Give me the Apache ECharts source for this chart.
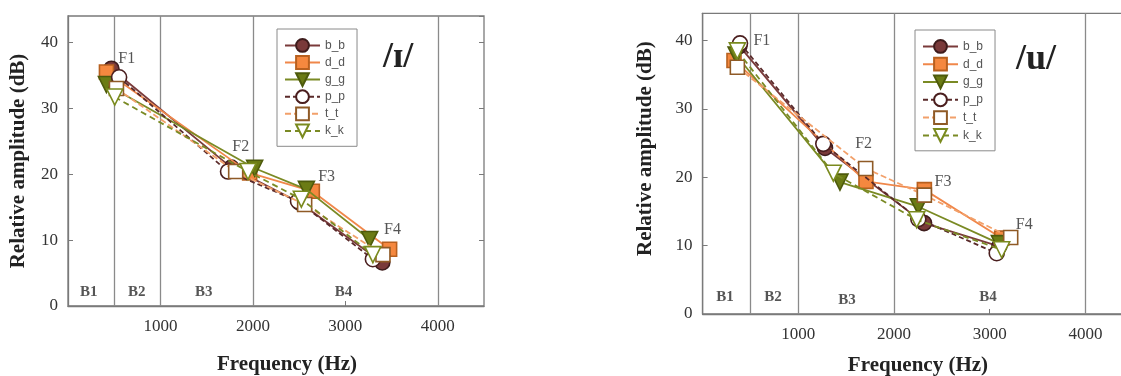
<!DOCTYPE html>
<html>
<head>
<meta charset="utf-8">
<script src="https://cdn.jsdelivr.net/npm/echarts@6/dist/echarts.min.js"></script>
<style>
html,body{margin:0;padding:0;background:#fff;}
#c{width:1121px;height:376px;}
</style>
</head>
<body>
<div id="c"></div>
<script>
// ---- data ----
var seriesNames = ['b_b','d_d','g_g','p_p','t_t','k_k'];
var xTicks = [1000, 2000, 3000, 4000];
var yTicks = [0, 10, 20, 30, 40];
var bandEdges = [500, 1000, 2000, 4000];
var vowelTitles = ['/ɪ/', '/u/'];

// vowel /ɪ/ : [frequency Hz, relative amplitude dB] for F1..F4
var I_b_b = [[470,36.0],[1767,21.0],[2505,15.7],[3400,6.6]];
var I_d_d = [[416,35.5],[1965,20.2],[2643,17.4],[3479,8.6]];
var I_g_g = [[416,33.6],[2019,20.9],[2579,17.7],[3263,10.1]];
var I_p_p = [[553,34.7],[1731,20.4],[2488,15.9],[3298,7.1]];
var I_t_t = [[524,33.0],[1814,20.4],[2560,15.4],[3407,7.8]];
var I_k_k = [[506,31.7],[1947,20.4],[2524,16.2],[3298,7.8]];

// vowel /u/
var U_b_b = [[385,39.2],[1279,24.3],[2314,13.3],[3100,9.9]];
var U_d_d = [[328,37.1],[1707,19.4],[2317,18.2],[3125,11.1]];
var U_g_g = [[350,37.9],[1435,19.3],[2254,15.7],[3101,10.3]];
var U_p_p = [[391,39.6],[1261,24.9],[2254,13.9],[3073,8.9]];
var U_t_t = [[363,36.1],[1704,21.3],[2317,17.4],[3219,11.2]];
var U_k_k = [[363,38.5],[1366,20.6],[2237,13.8],[3125,9.4]];

// formant annotation labels [x, y, text]
var I_formantLabels = [[636,37.5,'F1'],[1868,24.1,'F2'],[2798,19.6,'F3'],[3511,11.5,'F4']];
var U_formantLabels = [[619,40.0,'F1'],[1682,24.9,'F2'],[2511,19.4,'F3'],[3361,13.0,'F4']];
// band labels [x, y, text]
var I_bandLabels = [[225,2.1,'B1'],[744,2.1,'B2'],[1468,2.1,'B3'],[2981,2.1,'B4']];
var U_bandLabels = [[234,2.5,'B1'],[736,2.5,'B2'],[1508,2.0,'B3'],[2982,2.5,'B4']];

var I_data = [I_b_b, I_d_d, I_g_g, I_p_p, I_t_t, I_k_k];
var U_data = [U_b_b, U_d_d, U_g_g, U_p_p, U_t_t, U_k_k];

// ---- styles ----
var styles = {
  b_b: {symbol:'circle', size:15, rot:0, fill:'#7a3a3a', edge:'#3e1c1c', line:'#7a3a3a', dash:'solid'},
  d_d: {symbol:'rect', size:14, rot:0, fill:'#f5883f', edge:'#b8601f', line:'#f0874a', dash:'solid'},
  g_g: {symbol:'triangle', size:16, rot:180, fill:'#6b7b14', edge:'#4d5a0c', line:'#7a8a24', dash:'solid'},
  p_p: {symbol:'circle', size:15, rot:0, fill:'#ffffff', edge:'#4a1e1e', line:'#5a2a2a', dash:[5,3]},
  t_t: {symbol:'rect', size:14, rot:0, fill:'#ffffff', edge:'#8f5a26', line:'#f2a06a', dash:[6,3]},
  k_k: {symbol:'triangle', size:16, rot:180, fill:'#ffffff', edge:'#7a8a1e', line:'#7a8a24', dash:[6,4]}
};

var SERIF = 'Liberation Serif, Times New Roman, serif';
var SANS = 'Liberation Sans, Arial, sans-serif';
var frameColor = '#7a7a7a';

function makeSeries(dataArr, gi) {
  var out = [];
  seriesNames.forEach(function(n, i){
    var s = styles[n];
    out.push({
      name: n, type: 'line', xAxisIndex: gi, yAxisIndex: gi === 0 ? 0 : 2,
      data: dataArr[i],
      symbol: s.symbol, symbolSize: s.size, symbolRotate: s.rot,
      itemStyle: {color: s.fill, borderColor: s.edge, borderWidth: 1.6},
      lineStyle: {color: s.line, width: 1.8, type: s.dash},
      z: 3 + i
    });
  });
  return out;
}

function labelSeries(arr, gi, fontSize, bold, withLines) {
  var s = {
    type: 'scatter', xAxisIndex: gi, yAxisIndex: gi === 0 ? 0 : 2,
    symbolSize: 0, silent: true, z: 10,
    data: arr.map(function(d){ return {value:[d[0], d[1]], name:d[2]}; }),
    label: {show:true, position:'inside', formatter:'{b}', fontFamily:SERIF,
            fontSize:fontSize, fontWeight: bold ? 'bold' : 'normal', color:'#2a2a2a'}
  };
  if (withLines) {
    s.markLine = {
      silent: true, symbol: ['none','none'], label:{show:false},
      lineStyle: {color:'#8a8a8a', width:1.3, type:'solid'},
      data: bandEdges.map(function(v){ return {xAxis: v}; }),
      z: 1
    };
  }
  return s;
}

var chart = echarts.init(document.getElementById('c'), null, {renderer:'canvas'});

function xAxisDef(gi, nameGap, namePad) {
  return {
    type:'value', gridIndex: gi, min:0, max:4500, interval:1000,
    name:'Frequency (Hz)', nameLocation:'middle', nameGap: nameGap,
    nameTextStyle:{fontFamily:SERIF, fontSize:21, fontWeight:'bold', color:'#222', padding: namePad},
    axisLine:{show:true, lineStyle:{color:frameColor, width:1.3}},
    axisTick:{show:true, inside:true, length:5, lineStyle:{color:frameColor}},
    axisLabel:{show:true, margin:12, fontFamily:SERIF, fontSize:17, color:'#333',
               showMinLabel:false, showMaxLabel:false,
               formatter:function(v){ return xTicks.indexOf(v) >= 0 ? String(v) : ''; }},
    splitLine:{show:false}
  };
}
function yAxisDef(gi, nameGap, namePad) {
  return {
    type:'value', gridIndex: gi, min:0, max:44, interval:10, position:'left',
    name:'Relative amplitude (dB)', nameLocation:'middle', nameGap: nameGap, nameRotate:90,
    nameTextStyle:{fontFamily:SERIF, fontSize:21, fontWeight:'bold', color:'#222', padding: namePad},
    axisLine:{show:true, lineStyle:{color:frameColor, width:1.3}},
    axisTick:{show:true, inside:true, length:5, lineStyle:{color:frameColor}},
    axisLabel:{show:true, margin:10, fontFamily:SERIF, fontSize:17, color:'#333', showMaxLabel:false,
               formatter:function(v){ return yTicks.indexOf(v) >= 0 ? String(v) : ''; }},
    splitLine:{show:false}
  };
}

function legendDef(left, top, gap) {
  return {
    data: seriesNames, orient:'vertical', left:left, top:top,
    itemWidth:35, itemHeight:16, itemGap:gap,
    padding:[9,12,8,7], borderColor:'#8a8a8a', borderWidth:1, backgroundColor:'#fff',
    textStyle:{fontFamily:SANS, fontSize:12, color:'#555'},
    selectedMode:false
  };
}

var option = {
  animation:false,
  backgroundColor:'#ffffff',
  title: [
    {text: vowelTitles[0], left:383, top:40, padding:0,
     textStyle:{fontFamily:SERIF, fontSize:36, fontWeight:'bold', color:'#222'}},
    {text: vowelTitles[1], left:1016, top:42, padding:0,
     textStyle:{fontFamily:SERIF, fontSize:36, fontWeight:'bold', color:'#222'}}
  ],
  grid: [
    {left:68, top:16, width:416, height:290, containLabel:false, outerBoundsMode:'none',
     show:true, borderColor:frameColor, borderWidth:1.3, backgroundColor:'transparent'},
    {left:702.6, top:13.3, width:430.7, height:300.7, containLabel:false, outerBoundsMode:'none',
     show:true, borderColor:frameColor, borderWidth:1.3, backgroundColor:'transparent'}
  ],
  xAxis: [xAxisDef(0, 48, [0,0,0,22]), xAxisDef(1, 41, 0)],
  yAxis: [
    yAxisDef(0, 39, 0),
    {type:'value', gridIndex:0, min:0, max:44, interval:10, position:'right',
     axisLine:{show:false}, axisTick:{show:true, inside:true, length:5, lineStyle:{color:frameColor}},
     axisLabel:{show:false}, splitLine:{show:false}},
    yAxisDef(1, 47, [0,0,0,30])
  ],
  legend: [legendDef(277, 29, 2.3), legendDef(915, 30, 3)],
  series: [].concat(
    [labelSeries(I_bandLabels, 0, 15, true, true), labelSeries(U_bandLabels, 1, 15, true, true)],
    makeSeries(I_data, 0),
    makeSeries(U_data, 1),
    [labelSeries(I_formantLabels, 0, 16, false, false), labelSeries(U_formantLabels, 1, 16, false, false)]
  )
};
chart.setOption(option);
</script>
</body>
</html>
